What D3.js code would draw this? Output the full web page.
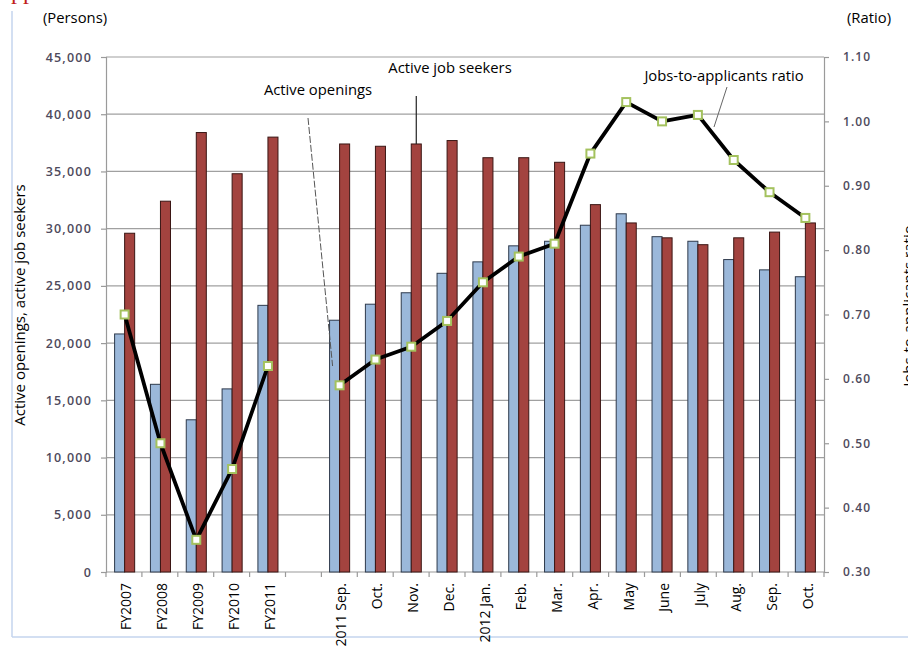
<!DOCTYPE html>
<html>
<head>
<meta charset="utf-8">
<script src="https://cdn.jsdelivr.net/npm/d3@7"></script>
<style>
  html, body { margin: 0; padding: 0; background: #fff; }
  svg text { font-family: "Open Sans", Lato, sans-serif; }
</style>
</head>
<body>
<div id="chart"></div>
<script>
// category labels (empty slot between fiscal years and months)
const categories = ['FY2007', 'FY2008', 'FY2009', 'FY2010', 'FY2011', '',
    '2011 Sep.', 'Oct.', 'Nov.', 'Dec.', '2012 Jan.', 'Feb.', 'Mar.', 'Apr.',
    'May', 'June', 'July', 'Aug.', 'Sep.', 'Oct.'];

const openings = [20800, 16400, 13300, 16000, 23300, null,
    22000, 23400, 24400, 26100, 27100, 28500, 28900, 30300,
    31300, 29300, 28900, 27300, 26400, 25800];

const seekers = [29600, 32400, 38400, 34800, 38000, null,
    37400, 37200, 37400, 37700, 36200, 36200, 35800, 32100,
    30500, 29200, 28600, 29200, 29700, 30500];

const ratio = [0.70, 0.50, 0.35, 0.46, 0.62, null,
    0.59, 0.63, 0.65, 0.69, 0.75, 0.79, 0.81, 0.95,
    1.03, 1.00, 1.01, 0.94, 0.89, 0.85];

const leftTicks = [0, 5000, 10000, 15000, 20000, 25000, 30000, 35000, 40000, 45000];
const rightTicks = [0.30, 0.40, 0.50, 0.60, 0.70, 0.80, 0.90, 1.00, 1.10];

const W = 908, H = 646;
const plot = { left: 106, right: 824, top: 57, bottom: 572 };

const svg = d3.select('#chart').append('svg')
    .attr('width', W).attr('height', H);

// page frame lines (light blue)
svg.append('line')
    .attr('x1', 12).attr('x2', 12).attr('y1', 11).attr('y2', 637)
    .attr('stroke', '#c5d5ee').attr('stroke-width', 1.5);
svg.append('line')
    .attr('x1', 12).attr('x2', W).attr('y1', 637).attr('y2', 637)
    .attr('stroke', '#c5d5ee').attr('stroke-width', 1.5);

// clipped red heading remnant at the top
svg.append('text')
    .attr('x', 11).attr('y', -1)
    .style('font-family', '"Liberation Serif", serif')
    .attr('font-size', 24).attr('fill', '#c0201a')
    .text('pp');

const idx = categories.map((d, i) => i);

const x = d3.scaleBand()
    .domain(idx)
    .range([plot.left, plot.right])
    .paddingInner(0.44)
    .paddingOuter(0.24);

const slot = (plot.right - plot.left) / categories.length;
const xc = i => plot.left + slot * (i + 0.5);

const yL = d3.scaleLinear().domain([0, 45000]).range([plot.bottom, plot.top]);
const yR = d3.scaleLinear().domain([0.30, 1.10]).range([plot.bottom, plot.top]);

// gridlines
svg.append('g')
    .selectAll('line')
    .data(leftTicks.filter(d => d > 0))
    .join('line')
    .attr('x1', plot.left).attr('x2', plot.right)
    .attr('y1', d => yL(d)).attr('y2', d => yL(d))
    .attr('stroke', '#a0a0a0').attr('stroke-width', 1.2);

// left axis
const leftAxis = svg.append('g')
    .attr('transform', `translate(${plot.left},0)`)
    .call(d3.axisLeft(yL).tickValues(leftTicks).tickSize(5).tickPadding(9)
        .tickFormat(d3.format(',')));
leftAxis.selectAll('path, line').attr('stroke', '#9a9a9a').attr('stroke-width', 1.2);
leftAxis.selectAll('text')
    .attr('font-size', 12.5).attr('font-weight', 600)
    .attr('letter-spacing', 1.2)
    .attr('fill', '#4e4a5c');

// right axis
const rightAxis = svg.append('g')
    .attr('transform', `translate(${plot.right},0)`)
    .call(d3.axisRight(yR).tickValues(rightTicks).tickSize(5).tickPadding(14)
        .tickFormat(d3.format('.2f')));
rightAxis.selectAll('path, line').attr('stroke', '#9a9a9a').attr('stroke-width', 1.2);
rightAxis.selectAll('text')
    .attr('font-size', 12).attr('font-weight', 600)
    .attr('letter-spacing', 1.1)
    .attr('fill', '#4e4a5c');

// bottom axis with ticks between categories
const xb = svg.append('g');
xb.append('line')
    .attr('x1', plot.left).attr('x2', plot.right)
    .attr('y1', plot.bottom).attr('y2', plot.bottom)
    .attr('stroke', '#9a9a9a').attr('stroke-width', 1.2);
xb.selectAll('line.tk')
    .data(d3.range(categories.length + 1))
    .join('line')
    .attr('class', 'tk')
    .attr('x1', i => plot.left + slot * i).attr('x2', i => plot.left + slot * i)
    .attr('y1', plot.bottom).attr('y2', plot.bottom + 5)
    .attr('stroke', '#9a9a9a').attr('stroke-width', 1.2);
xb.selectAll('text')
    .data(idx)
    .join('text')
    .attr('transform', i => `translate(${xc(i) + 2},${plot.bottom + 11}) rotate(-90)`)
    .attr('text-anchor', 'end')
    .attr('dy', '0.36em')
    .attr('font-size', 14)
    .attr('fill', '#000')
    .text(i => categories[i]);

// bars
const half = x.bandwidth() / 2;
svg.append('g')
    .selectAll('rect')
    .data(idx.filter(i => openings[i] != null))
    .join('rect')
    .attr('x', i => x(i))
    .attr('y', i => yL(openings[i]))
    .attr('width', half)
    .attr('height', i => yL(0) - yL(openings[i]))
    .attr('fill', '#9bb8da')
    .attr('stroke', '#2e3a4c').attr('stroke-width', 1);

svg.append('g')
    .selectAll('rect')
    .data(idx.filter(i => seekers[i] != null))
    .join('rect')
    .attr('x', i => x(i) + half)
    .attr('y', i => yL(seekers[i]))
    .attr('width', half)
    .attr('height', i => yL(0) - yL(seekers[i]))
    .attr('fill', '#a3433f')
    .attr('stroke', '#3a1614').attr('stroke-width', 1);

// ratio line
const line = d3.line()
    .defined(i => ratio[i] != null)
    .x(i => x(i) + half)
    .y(i => yR(ratio[i]));

svg.append('path')
    .attr('d', line(idx))
    .attr('fill', 'none')
    .attr('stroke', '#000')
    .attr('stroke-width', 3.8)
    .attr('stroke-linejoin', 'round');

svg.append('g')
    .selectAll('rect')
    .data(idx.filter(i => ratio[i] != null))
    .join('rect')
    .attr('x', i => x(i) + half - 4)
    .attr('y', i => yR(ratio[i]) - 4)
    .attr('width', 8).attr('height', 8)
    .attr('fill', '#fff')
    .attr('stroke', '#a4c25e').attr('stroke-width', 2);

// unit labels
svg.append('text').attr('x', 43).attr('y', 23)
    .attr('font-size', 14.8).text('(Persons)');
svg.append('text').attr('x', 847).attr('y', 23)
    .attr('font-size', 14.8).text('(Ratio)');

// axis titles
svg.append('text')
    .attr('transform', 'translate(25,305) rotate(-90)')
    .attr('text-anchor', 'middle')
    .attr('font-size', 15)
    .text('Active openings, active job seekers');
svg.append('text')
    .attr('transform', 'translate(914,306) rotate(-90)')
    .attr('text-anchor', 'middle')
    .attr('font-size', 15)
    .text('Jobs-to-applicants ratio');

// series annotations
svg.append('text').attr('x', 318).attr('y', 95)
    .attr('text-anchor', 'middle').attr('font-size', 14.8)
    .text('Active openings');
svg.append('line')
    .attr('x1', 308).attr('y1', 118)
    .attr('x2', x(6) + half / 2 - 2).attr('y2', yL(18000))
    .attr('stroke', '#555').attr('stroke-width', 1)
    .attr('stroke-dasharray', '7,2');

svg.append('text').attr('x', 450).attr('y', 73)
    .attr('text-anchor', 'middle').attr('font-size', 14.8)
    .text('Active job seekers');
svg.append('line')
    .attr('x1', x(8) + half * 1.5).attr('y1', 96)
    .attr('x2', x(8) + half * 1.5).attr('y2', yL(seekers[8]))
    .attr('stroke', '#222').attr('stroke-width', 1.2);

svg.append('text').attr('x', 724).attr('y', 81)
    .attr('text-anchor', 'middle').attr('font-size', 14.8)
    .text('Jobs-to-applicants ratio');
svg.append('line')
    .attr('x1', 727).attr('y1', 87)
    .attr('x2', 714).attr('y2', 127)
    .attr('stroke', '#666').attr('stroke-width', 1);
</script>
</body>
</html>
